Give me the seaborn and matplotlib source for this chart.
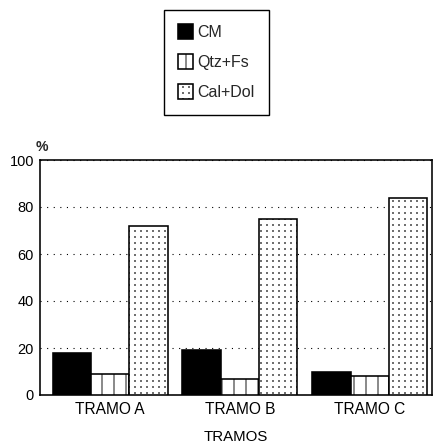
import matplotlib
matplotlib.use("Agg")
import matplotlib.pyplot as plt
import matplotlib.hatch as mhatch
from matplotlib.path import Path
import numpy as np
import seaborn as sns
import pandas as pd

# Composition by section (%)
tramos = ["TRAMO A", "TRAMO B", "TRAMO C"]
minerales = ["CM", "Qtz+Fs", "Cal+Dol"]
cm = [18, 19, 10]
qtz_fs = [9, 7, 8]
cal_dol = [72, 75, 84]
y_ticks = [0, 20, 40, 60, 80, 100]


class GridDots(mhatch.HatchPatternBase):
    """Dot hatch on a square (non-staggered) grid for the '.' character."""

    def __init__(self, hatch, density):
        self.n = hatch.count(".") * density
        self.num_vertices = self.n * self.n * 5

    def set_vertices_and_codes(self, vertices, codes):
        n = self.n
        s = 0.04 / n
        centers = (np.arange(n) + 0.5) / n
        sq = np.array([[-s, -s], [s, -s], [s, s], [-s, s], [-s, -s]])
        k = 0
        for cy in centers:
            for cx in centers:
                vertices[k:k + 5] = sq + [cx, cy]
                codes[k] = Path.MOVETO
                codes[k + 1:k + 4] = Path.LINETO
                codes[k + 4] = Path.CLOSEPOLY
                k += 5


mhatch._hatch_types = [t for t in mhatch._hatch_types
                       if t is not mhatch.SmallFilledCircles] + [GridDots]

df = pd.DataFrame({
    "tramo": tramos * 3,
    "mineral": [m for m in minerales for _ in tramos],
    "pct": cm + qtz_fs + cal_dol,
})

sns.set_style("ticks")
plt.rcParams["font.family"] = ["Liberation Sans", "DejaVu Sans"]
plt.rcParams["hatch.linewidth"] = 0.9
plt.rcParams["hatch.color"] = "black"

DPI = 72
fig = plt.figure(figsize=(438 / DPI, 443 / DPI), dpi=DPI)
ax = fig.add_axes([40 / 438, 1 - 395 / 443, 392 / 438, 235 / 443])

sns.barplot(data=df, x="tramo", y="pct", hue="mineral", order=tramos,
            hue_order=minerales, palette=["black", "white", "white"],
            saturation=1, width=0.885, edgecolor="black", linewidth=1.6,
            ax=ax, zorder=3)

hatches = ["", "|", ".."]
for cont, h in zip(ax.containers, hatches):
    for p in cont.patches:
        p.set_hatch(h)

ax.set_ylim(0, 100)
ax.set_xlim(-0.54, 2.48)
ax.set_yticks(y_ticks)
ax.set_axisbelow(True)
ax.yaxis.grid(True, color="black", linestyle=(0, (1, 5)), linewidth=1.1)
ax.xaxis.grid(False)

for s in ax.spines.values():
    s.set_visible(True)
    s.set_color("black")
    s.set_linewidth(1.6)

ax.tick_params(axis="y", length=0, pad=6, labelsize=14.5, colors="black")
ax.tick_params(axis="x", length=0, pad=7, labelsize=15.5, colors="black")
ax.set_ylabel("")
ax.set_xlabel("TRAMOS", fontsize=15, labelpad=13, color="black")

fig.text(42 / 438, 1 - 147 / 443, "%", fontsize=14, ha="center",
         va="center", fontweight="bold")

leg = ax.get_legend()
if leg is not None:
    leg.remove()
handles = [c.patches[0] for c in ax.containers]
fig.legend(handles, minerales, loc="upper center",
           bbox_to_anchor=(216.5 / 438, 1 - 10 / 443), borderaxespad=0,
           fontsize=16, frameon=True, fancybox=False, edgecolor="black",
           framealpha=1, handlelength=0.9, handleheight=1.0,
           handletextpad=0.3, labelspacing=0.9, borderpad=0.9)
fig.legends[0].get_frame().set_linewidth(1.4)

fig.savefig("out.png", dpi=DPI)
